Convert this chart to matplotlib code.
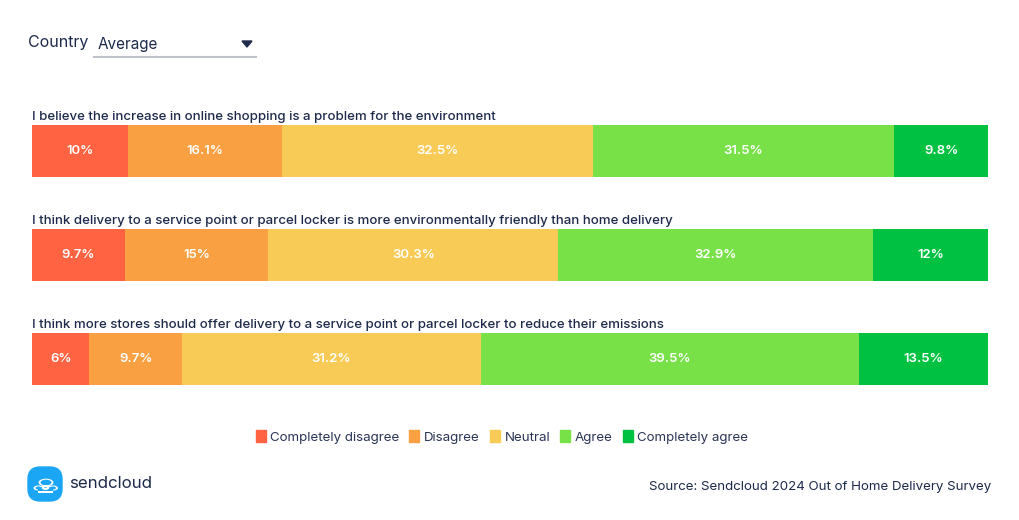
import numpy as np
import matplotlib.pyplot as plt
from matplotlib.patches import FancyBboxPatch, Polygon, Circle, Rectangle

plt.rcParams['font.family'] = ['Inter', 'DejaVu Sans']

# survey data
questions = [
    'I believe the increase in online shopping is a problem for the environment',
    'I think delivery to a service point or parcel locker is more environmentally friendly than home delivery',
    'I think more stores should offer delivery to a service point or parcel locker to reduce their emissions',
]
answers = ['Completely disagree', 'Disagree', 'Neutral', 'Agree', 'Completely agree']
completely_disagree = [10, 9.7, 6]
disagree = [16.1, 15, 9.7]
neutral = [32.5, 30.3, 31.2]
agree = [31.5, 32.9, 39.5]
completely_agree = [9.8, 12, 13.5]

colors = ['#FF6341', '#F9A142', '#F8CA56', '#77E147', '#00C141']
navy = '#1D2A4B'

W, H = 1020, 520
fig = plt.figure(figsize=(W / 100, H / 100), dpi=100)

# axes in pixel layout: bars from x=32 to 988, centers at 151, 255, 359
ax = fig.add_axes([32 / W, 1 - 411 / H, 956 / W, 312 / H])
ax.set_xlim(0, 1)
ax.set_ylim(2.5, -0.5)
ax.axis('off')

series = [completely_disagree, disagree, neutral, agree, completely_agree]
totals = np.sum(series, axis=0)
left = np.zeros(len(questions))
for vals, col in zip(series, colors):
    vals = np.array(vals, dtype=float)
    w = vals / totals
    ax.barh(range(len(questions)), w, left=left, height=0.5, color=col, linewidth=0)
    for i, (l, ww, v) in enumerate(zip(left, w, vals)):
        ax.text(l + ww / 2, i, '%g%%' % v, ha='center', va='center',
                color='white', fontsize=9.5, fontweight='semibold')
    left += w

for i, q in enumerate(questions):
    ax.text(0, i - 0.33, q, ha='left', va='center', color=navy, fontsize=9.55,
            fontweight='medium')

# dropdown header
fig.text(28 / W, 1 - 43 / H, 'Country', ha='left', va='center', color=navy, fontsize=11.5)
fig.text(98 / W, 1 - 44 / H, 'Average', ha='left', va='center', color=navy, fontsize=11)
fig.add_artist(plt.Line2D([94 / W, 256 / W], [1 - 57 / H, 1 - 57 / H], color='#BFC3CC', lw=1.5))
fig.add_artist(Polygon([[242 / W, 1 - 41 / H], [252 / W, 1 - 41 / H], [247 / W, 1 - 47 / H]],
                       closed=True, color=navy, transform=fig.transFigure))

# legend
handles = [FancyBboxPatch((0, 0), 1, 1, boxstyle='round,pad=0.1', color=c) for c in colors]
leg = fig.legend(handles, answers, loc='center', bbox_to_anchor=(502 / W, 1 - 437 / H), ncol=5,
                 frameon=False, fontsize=9.6, handlelength=0.75, handleheight=0.9,
                 handletextpad=0.35, columnspacing=0.75, labelcolor='#2A3556')

# logo
blue = '#1BA6F5'
fig.add_artist(FancyBboxPatch((28 / W, 1 - 501 / H), 34 / W, 34 / H,
                              boxstyle='round,pad=0,rounding_size=0.012',
                              color=blue, transform=fig.transFigure, mutation_aspect=W / H))
# cloud: white shape then blue inside to leave an outline
for r_add, col in [(0, 'white'), (-2, blue)]:
    for cx, cy, r in [(38.5, 488, 5), (46, 482.5, 7.5), (53, 488, 5)]:
        fig.add_artist(Circle((cx / W, 1 - cy / H), (r + r_add) / W, color=col, lw=0,
                              transform=fig.transFigure))
    fig.add_artist(Rectangle((38.5 / W, 1 - (493 + r_add) / H), 14.5 / W, (6 + r_add) / H,
                             color=col, lw=0, transform=fig.transFigure))
fig.add_artist(Circle((45.5 / W, 1 - 487.5 / H), 2.8 / W, fill=False, ec='white', lw=1.5,
                      transform=fig.transFigure))
fig.text(69 / W, 1 - 483 / H, 'sendcloud', ha='left', va='center', color=navy, fontsize=12.2)

fig.text(991 / W, 1 - 487 / H, 'Source: Sendcloud 2024 Out of Home Delivery Survey',
         ha='right', va='center', color=navy, fontsize=9.6)

fig.savefig('out.png', dpi=100, facecolor='white')
